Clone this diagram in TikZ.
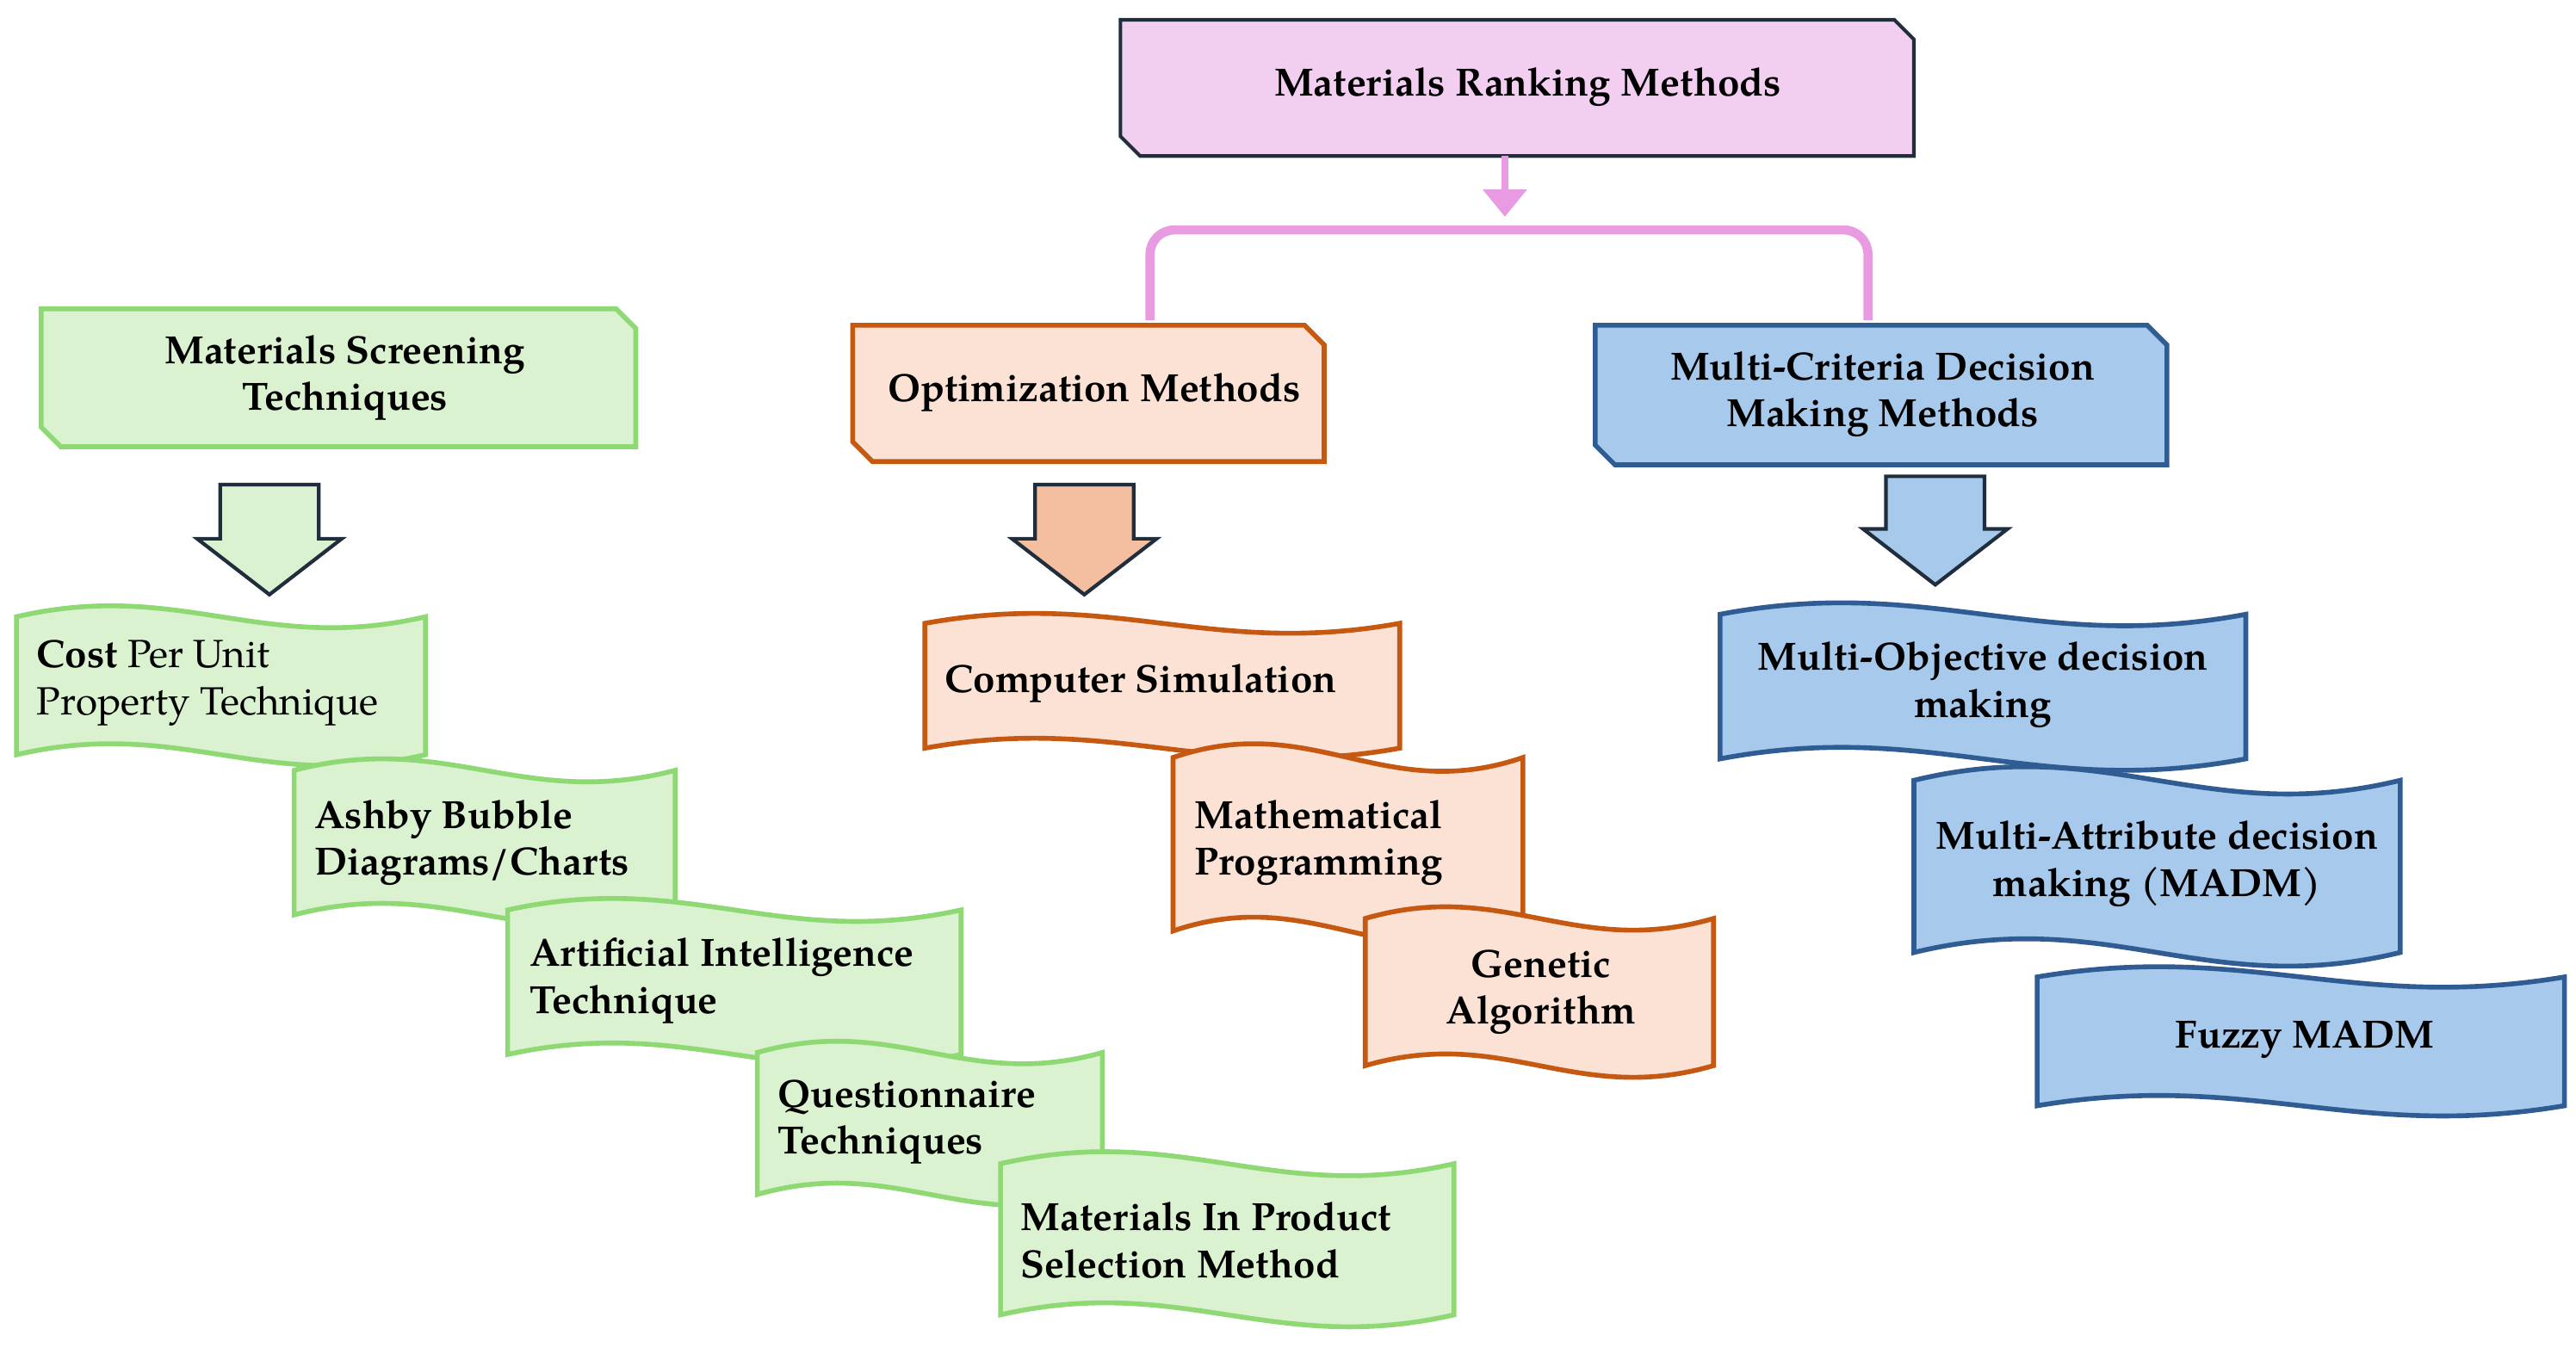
\documentclass[tikz,border=0pt]{standalone}
\usepackage{fontspec}
\usetikzlibrary{arrows.meta}
\setmainfont{TeX Gyre Pagella}
\begin{document}
\definecolor{pinkf}{HTML}{F2CEF0}\definecolor{pinkl}{HTML}{E89BE0}
\definecolor{dark}{HTML}{1F2D3D}
\definecolor{grf}{HTML}{DAF2D0}\definecolor{grl}{HTML}{8ED973}
\definecolor{orf}{HTML}{FBE2D5}\definecolor{orl}{HTML}{C65911}\definecolor{ora}{HTML}{F4BFA0}
\definecolor{blf}{HTML}{A6C9EC}\definecolor{bll}{HTML}{2F5C93}
\newcommand\wav[5]{\draw[#1] ({#2},{#3+0.1*(#5-#3)}) .. controls ({#2+0.4*(#4-#2)},{#3-0.12*(#5-#3)}) and ({#2+0.6*(#4-#2)},{#3+0.32*(#5-#3)}) .. ({#4},{#3+0.1*(#5-#3)}) -- ({#4},{#5-0.1*(#5-#3)}) .. controls ({#2+0.6*(#4-#2)},{#5+0.12*(#5-#3)}) and ({#2+0.4*(#4-#2)},{#5-0.32*(#5-#3)}) .. ({#2},{#5-0.1*(#5-#3)}) -- cycle;}
\newcommand\snip[5]{\draw[#1] ({#2},{#3}) -- ({#4-12},{#3}) -- ({#4},{#3+12}) -- ({#4},{#5}) -- ({#2+12},{#5}) -- ({#2},{#5-12}) -- cycle;}
\newcommand\barr[6]{\draw[#1] ({#2-30},{#3}) -- ({#2+30},{#3}) -- ({#2+30},{#4}) -- ({#2+44},{#4}) -- ({#2},{#5}) -- ({#2-44},{#4}) -- ({#2-30},{#4}) -- cycle;}
\begin{tikzpicture}[x=0.01908cm,y=-0.01908cm,
  t/.style={font=\fontsize{13}{15.5}\selectfont\bfseries,align=left,anchor=west,inner sep=0},
  tc/.style={font=\fontsize{13}{15.5}\selectfont\bfseries,align=center,inner sep=0},
  gw/.style={fill=grf,draw=grl,line width=1.6pt},
  ow/.style={fill=orf,draw=orl,line width=1.6pt},
  bw/.style={fill=blf,draw=bll,line width=1.6pt}]
\useasboundingbox (0,0) rectangle (1568,828);
% top
\snip{fill=pinkf,draw=dark,line width=1.2pt}{682}{12}{1165}{95}
\node[tc] (top) at (930,53) {Materials Ranking Methods};
\coordinate (br) at (916,132);
\draw[pinkl,line width=2.5pt,-{Triangle[length=9pt,width=14pt]}] (916,95) -- (br);
\draw[pinkl,line width=3pt,rounded corners=8pt] (700,195) -- (700,140) -- (1137,140) -- (1137,195);
% category boxes
\snip{gw}{25}{188}{387}{272}
\node[tc] (scr) at (210,230) {Materials Screening\\Techniques};
\snip{ow}{519}{198}{806}{281}
\node[tc] (opt) at (666,239) {Optimization Methods};
\snip{bw}{971}{198}{1319}{283}
\node[tc] (mcd) at (1146,240) {Multi-Criteria Decision\\Making Methods};
% block arrows
\barr{fill=grf,draw=dark,line width=1.2pt}{164}{295}{328}{362}{}
\barr{fill=ora,draw=dark,line width=1.2pt}{660}{295}{328}{362}{}
\barr{fill=blf,draw=dark,line width=1.2pt}{1178}{290}{322}{356}{}
% green
\wav{gw}{10}{365}{259}{470}
\node[t] (g1) at (22,416) {Cost {\mdseries Per Unit}\\{\mdseries Property Technique}};
\wav{gw}{179}{458}{411}{568}
\node[t] (g2) at (191,513) {Ashby Bubble\\Diagrams/Charts};
\wav{gw}{309}{543}{585}{653}
\node[t] (g3) at (322,597) {Artificial Intelligence\\Technique};
\wav{gw}{461}{630}{671}{738}
\node[t] (g4) at (473,683) {Questionnaire\\Techniques};
\wav{gw}{609}{697}{885}{812}
\node[t] (g5) at (621,755) {Materials In Product\\Selection Method};
% orange
\wav{ow}{563}{370}{852}{465}
\node[t] (o1) at (575,416) {Computer Simulation};
\wav{ow}{714}{448}{927}{580}
\node[t] (o2) at (727,513) {Mathematical\\Programming};
\wav{ow}{831}{548}{1043}{660}
\node[tc] (o3) at (938,604) {Genetic\\Algorithm};
% blue
\wav{bw}{1047}{363}{1367}{473}
\node[tc] (b1) at (1207,417) {Multi-Objective decision\\making};
\wav{bw}{1165}{462}{1461}{593}
\node[tc] (b2) at (1313,526) {Multi-Attribute decision\\making (MADM)};
\wav{bw}{1240}{585}{1561}{683}
\node[tc] (b3) at (1403,633) {Fuzzy MADM};
\end{tikzpicture}
\end{document}
